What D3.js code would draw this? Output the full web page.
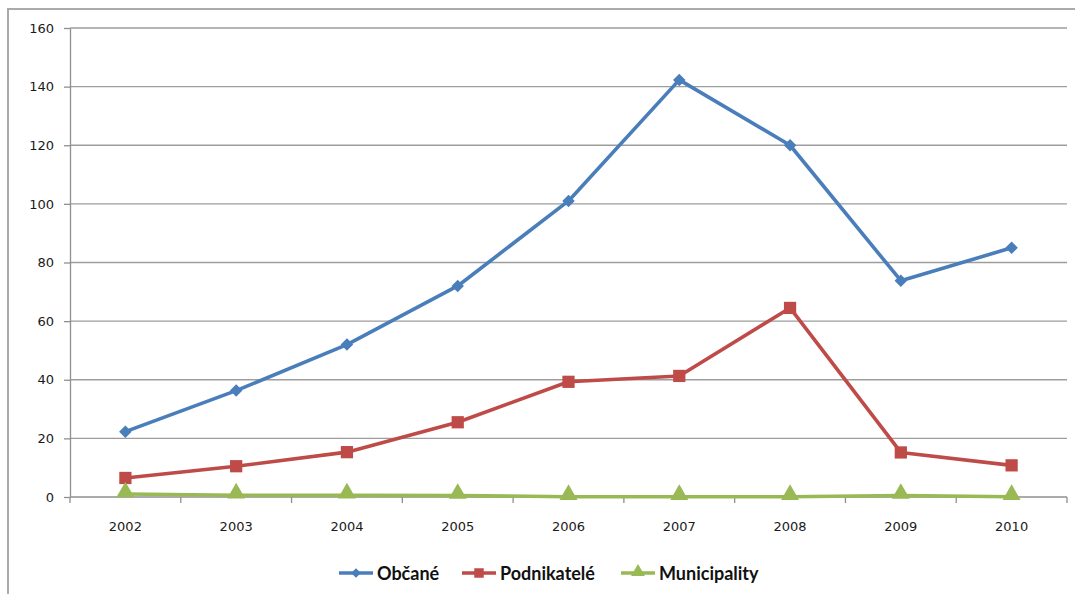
<!DOCTYPE html>
<html>
<head>
<meta charset="utf-8">
<script src="https://cdn.jsdelivr.net/npm/d3@7"></script>
<style>
  html, body { margin: 0; padding: 0; background: #fff; }
  svg { display: block; }
</style>
</head>
<body>
<script>
// Yearly counts for three applicant groups
const years = ["2002", "2003", "2004", "2005", "2006", "2007", "2008", "2009", "2010"];
const obcane = [22.3, 36.3, 52, 72, 101, 142.3, 120, 73.8, 85];
const podnikatele = [6.5, 10.5, 15.3, 25.5, 39.3, 41.3, 64.5, 15.2, 10.8];
const municipality = [1, 0.6, 0.6, 0.5, 0.1, 0.1, 0.1, 0.5, 0.1];
const yTicks = [0, 20, 40, 60, 80, 100, 120, 140, 160];

const series = [
  { name: "Občané", values: obcane, color: "#4a7ebb", marker: "diamond" },
  { name: "Podnikatelé", values: podnikatele, color: "#be4b48", marker: "square" },
  { name: "Municipality", values: municipality, color: "#98b954", marker: "triangle" }
];

const W = 1075, H = 594;
const plot = { left: 70, right: 1067, top: 28, bottom: 497 };

const svg = d3.select("body").append("svg").attr("width", W).attr("height", H);

// chart frame
svg.append("rect")
  .attr("x", 8).attr("y", 9).attr("width", W + 10).attr("height", H + 10)
  .attr("fill", "none").attr("stroke", "#aaaaaa").attr("stroke-width", 2);

const x = d3.scaleBand().domain(years).range([plot.left, plot.right]);
const y = d3.scaleLinear().domain([0, 160]).range([plot.bottom, plot.top]);
const cx = d => x(d) + x.bandwidth() / 2;

// horizontal gridlines
svg.append("g").selectAll("line").data(yTicks.filter(t => t > 0)).join("line")
  .attr("x1", plot.left).attr("x2", plot.right)
  .attr("y1", d => y(d)).attr("y2", d => y(d))
  .attr("stroke", "#9d9d9d").attr("stroke-width", 1.3);

// y axis
const yAxis = svg.append("g").attr("transform", `translate(${plot.left},0)`)
  .call(d3.axisLeft(y).tickValues(yTicks).tickSize(6).tickPadding(10).tickSizeOuter(0));
yAxis.select(".domain").attr("stroke", "#8f8f8f").attr("stroke-width", 1.3);
yAxis.selectAll(".tick line").attr("stroke", "#8f8f8f").attr("stroke-width", 1.3);
yAxis.selectAll("text")
  .attr("font-family", "DejaVu Sans, Verdana, sans-serif")
  .attr("font-size", 13).attr("fill", "#1a1a1a");

// x axis: ticks sit on the category boundaries
const xAxisG = svg.append("g").attr("transform", `translate(0,${plot.bottom})`);
xAxisG.append("line")
  .attr("x1", plot.left).attr("x2", plot.right)
  .attr("stroke", "#8f8f8f").attr("stroke-width", 1.3);
const bounds = years.map(d => x(d)).concat([x(years[years.length - 1]) + x.bandwidth()]);
xAxisG.selectAll("line.tk").data(bounds).join("line").attr("class", "tk")
  .attr("x1", d => d).attr("x2", d => d).attr("y1", 0).attr("y2", 6)
  .attr("stroke", "#8f8f8f").attr("stroke-width", 1.3);
xAxisG.selectAll("text").data(years).join("text")
  .attr("x", d => cx(d)).attr("y", 34)
  .attr("text-anchor", "middle")
  .attr("font-family", "DejaVu Sans, Verdana, sans-serif")
  .attr("font-size", 13).attr("fill", "#1a1a1a")
  .text(d => d);

// markers: diamond is a square turned 45 degrees
const markerPath = (m, scale) => {
  if (m === "diamond") return d3.symbol().type(d3.symbolSquare).size(78 * scale)();
  if (m === "square") return d3.symbol().type(d3.symbolSquare).size(150 * scale)();
  return d3.symbol().type(d3.symbolTriangle).size(140 * scale)();
};
const markerTransform = (m, px, py) =>
  m === "diamond" ? `translate(${px},${py}) rotate(45)` :
  m === "triangle" ? `translate(${px},${py - 2})` : `translate(${px},${py})`;

const line = d3.line().x((d, i) => cx(years[i])).y(d => y(d));

series.forEach(s => {
  const g = svg.append("g");
  g.append("path").datum(s.values)
    .attr("d", line)
    .attr("fill", "none").attr("stroke", s.color)
    .attr("stroke-width", 3.6).attr("stroke-linejoin", "round");
  g.selectAll("path.m").data(s.values).join("path").attr("class", "m")
    .attr("transform", (d, i) => markerTransform(s.marker, cx(years[i]), y(d)))
    .attr("d", markerPath(s.marker, 1))
    .attr("fill", s.color);
});

// legend
const legendX = [339, 462, 621];
const legendY = 573;
series.forEach((s, i) => {
  const g = svg.append("g").attr("transform", `translate(${legendX[i]},${legendY})`);
  g.append("line").attr("x1", 0).attr("x2", 34).attr("y1", 0).attr("y2", 0)
    .attr("stroke", s.color).attr("stroke-width", 3.6);
  g.append("path")
    .attr("transform", markerTransform(s.marker, 17, s.marker === "triangle" ? 1 : 0))
    .attr("d", markerPath(s.marker, 0.6))
    .attr("fill", s.color);
  g.append("text").attr("x", 38).attr("y", 6.5)
    .attr("font-family", "Lato, 'Open Sans', sans-serif")
    .attr("font-weight", "bold").attr("font-size", 18).attr("fill", "#111")
    .text(s.name);
});
</script>
</body>
</html>
